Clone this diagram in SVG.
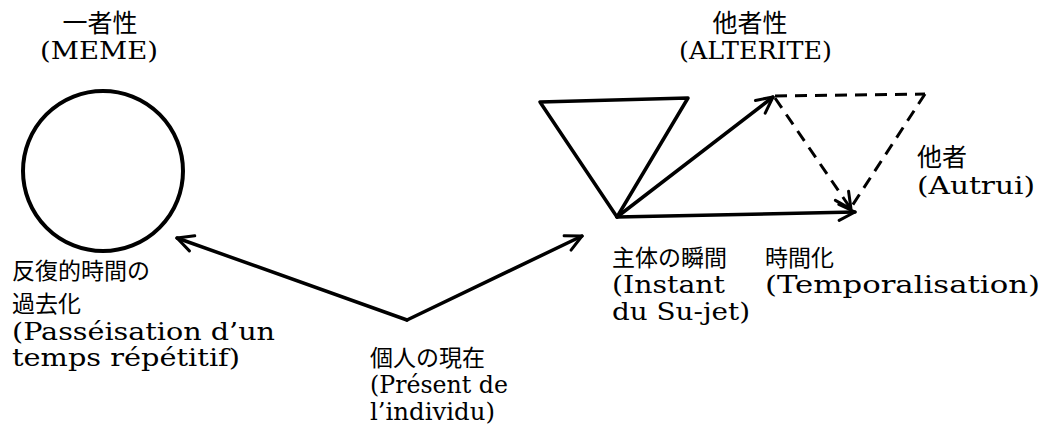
<svg xmlns="http://www.w3.org/2000/svg" width="1051" height="428" viewBox="0 0 1051 428">
<style>
.lat{font-family:"DejaVu Serif","Liberation Serif",serif;font-size:24px;fill:#000}
.cjk{font-family:"Noto Sans CJK JP","Noto Sans CJK SC",sans-serif;font-size:23px;fill:#000}
.cjh{font-family:"Noto Sans CJK JP","Noto Sans CJK SC",sans-serif;font-size:25px;fill:#000}
.ln{fill:none;stroke:#000;stroke-width:3.5;stroke-linecap:round;stroke-linejoin:round}
.ds{fill:none;stroke:#000;stroke-width:3;stroke-dasharray:12 8}
</style>
<defs>
<marker id="ah" viewBox="0 0 20 20" refX="18" refY="10" markerWidth="20" markerHeight="20" markerUnits="userSpaceOnUse" orient="auto">
<path d="M2,2 L18,10 L2,18" fill="none" stroke="#000" stroke-width="3" stroke-linecap="round" stroke-linejoin="round"/>
</marker>
</defs>
<rect width="1051" height="428" fill="#fff"/>
<g id="meme">
<circle cx="103" cy="171" r="80" fill="none" stroke="#000" stroke-width="4"/>
<text class="cjh" x="100" y="32" text-anchor="middle">一者性</text>
<text class="lat" x="40" y="59" textLength="118" lengthAdjust="spacingAndGlyphs">(MEME)</text>
</g>
<g id="alterite">
<polygon class="ln" points="540,102 688,98 617,217"/>
<text class="cjh" x="750" y="32" text-anchor="middle">他者性</text>
<text class="lat" x="679" y="59" textLength="153" lengthAdjust="spacingAndGlyphs">(ALTERITE)</text>
</g>
<g id="autrui">
<line class="ds" x1="775" y1="96" x2="925" y2="94"/>
<line class="ds" x1="925" y1="94" x2="850" y2="209"/>
<text class="cjh" x="917" y="166">他者</text>
<text class="lat" x="917" y="194" textLength="118" lengthAdjust="spacingAndGlyphs">(Autrui)</text>
</g>
<g id="passe">
<text class="cjk" x="12" y="279">反復的時間の</text>
<text class="cjk" x="12" y="312">過去化</text>
<text class="lat" x="12" y="340" textLength="263" lengthAdjust="spacingAndGlyphs">(Passéisation d’un</text>
<text class="lat" x="12" y="366" textLength="228" lengthAdjust="spacingAndGlyphs">temps répétitif)</text>
</g>
<g id="present">
<text class="cjk" x="370" y="366">個人の現在</text>
<text class="lat" x="370" y="393" textLength="138" lengthAdjust="spacingAndGlyphs">(Présent de</text>
<text class="lat" x="370" y="420" textLength="125" lengthAdjust="spacingAndGlyphs">l’individu)</text>
</g>
<g id="instant">
<text class="cjk" x="612" y="266">主体の瞬間</text>
<text class="lat" x="612" y="293" textLength="113" lengthAdjust="spacingAndGlyphs">(Instant</text>
<text class="lat" x="612" y="320" textLength="138" lengthAdjust="spacingAndGlyphs">du Su-jet)</text>
</g>
<g id="temporalisation">
<text class="cjk" x="765" y="266">時間化</text>
<text class="lat" x="765" y="293" textLength="275" lengthAdjust="spacingAndGlyphs">(Temporalisation)</text>
</g>
<g id="connectors">
<line class="ln" x1="407" y1="320" x2="177" y2="238" marker-end="url(#ah)"/>
<line class="ln" x1="407" y1="320" x2="582" y2="236" marker-end="url(#ah)"/>
<line class="ln" x1="617" y1="217" x2="773" y2="97" marker-end="url(#ah)"/>
<line class="ln" x1="617" y1="217" x2="855" y2="212" marker-end="url(#ah)"/>
<line class="ds" x1="775" y1="98" x2="851" y2="209" marker-end="url(#ah)"/>
</g>
</svg>
